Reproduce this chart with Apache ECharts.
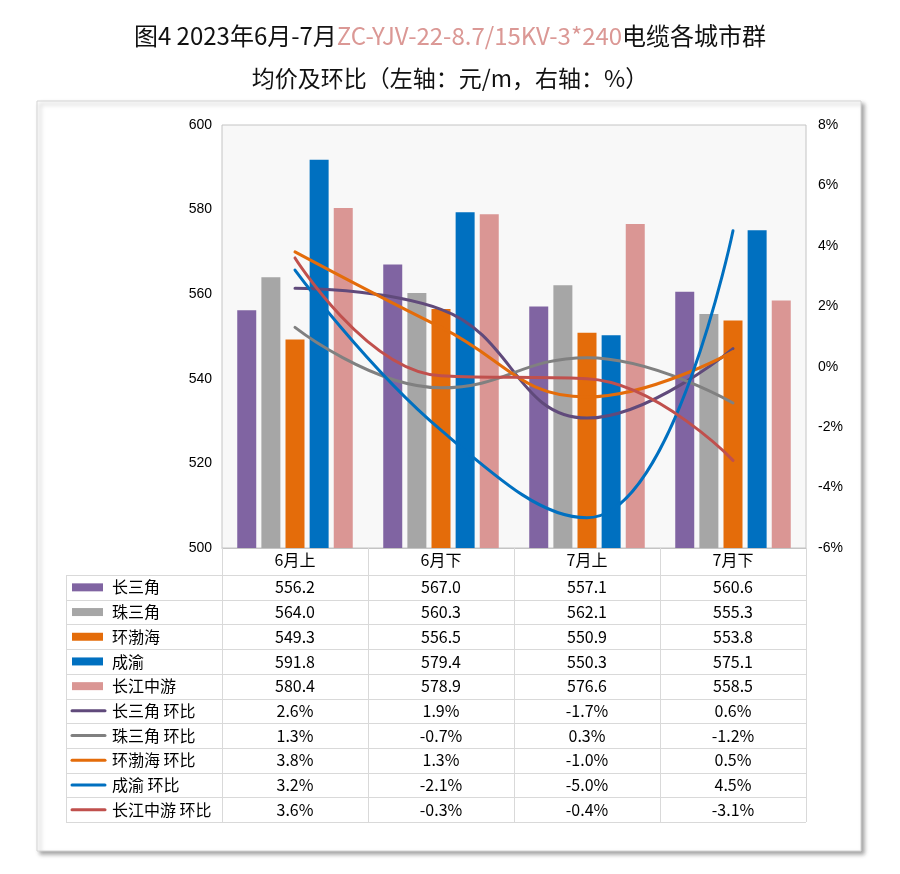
<!DOCTYPE html>
<html><head><meta charset="utf-8">
<script src="https://cdn.jsdelivr.net/npm/echarts@6/dist/echarts.min.js"></script>
<style>html,body{margin:0;padding:0;background:#fff}#c{width:900px;height:874px}</style>
</head><body><div id="c"></div>
<script>
const categories = ['6月上', '6月下', '7月上', '7月下'];
const priceNames = ['长三角', '珠三角', '环渤海', '成渝', '长江中游'];
const priceYRD = [556.2, 567.0, 557.1, 560.6];
const pricePRD = [564.0, 560.3, 562.1, 555.3];
const priceBohai = [549.3, 556.5, 550.9, 553.8];
const priceCY = [591.8, 579.4, 550.3, 575.1];
const priceMidYZ = [580.4, 578.9, 576.6, 558.5];
const pctNames = ['长三角 环比', '珠三角 环比', '环渤海 环比', '成渝 环比', '长江中游 环比'];
const pctYRD = [2.6, 1.9, -1.7, 0.6];
const pctPRD = [1.3, -0.7, 0.3, -1.2];
const pctBohai = [3.8, 1.3, -1.0, 0.5];
const pctCY = [3.2, -2.1, -5.0, 4.5];
const pctMidYZ = [3.6, -0.3, -0.4, -3.1];
const leftTicks = [500, 520, 540, 560, 580, 600];
const rightTicks = [-6, -4, -2, 0, 2, 4, 6, 8];

const priceData = [priceYRD, pricePRD, priceBohai, priceCY, priceMidYZ];
const pctData = [pctYRD, pctPRD, pctBohai, pctCY, pctMidYZ];
const barColors = ['#8064A2', '#A6A6A6', '#E46C0A', '#0070C0', '#DA9694'];
const lineColors = ['#604A7B', '#808080', '#E46C0A', '#0070C0', '#C0504D'];

const FONT = '"Noto Sans CJK SC", "Liberation Sans", sans-serif';
const chart = echarts.init(document.getElementById('c'));

const series = [];
priceNames.forEach((n, i) => series.push({
  name: n, type: 'bar', yAxisIndex: 0, data: priceData[i],
  barWidth: 19, barGap: '27%', itemStyle: { color: barColors[i] }, z: 2
}));
pctNames.forEach((n, i) => series.push({
  name: n, type: 'line', yAxisIndex: 1, data: pctData[i], smooth: 0.45,
  symbol: 'none', lineStyle: { color: lineColors[i], width: 3, cap: 'round' },
  itemStyle: { color: lineColors[i] }, z: 3
}));

chart.setOption({
  animation: false,
  backgroundColor: '#ffffff',
  title: {
    left: 'center', top: 9,
    text: '{a|图4 2023年6月-7月}{b|ZC-YJV-22-8.7/15KV-3*240}{a|电缆各城市群}\n{c|均价及环比（左轴：元/m，右轴：%）}',
    textStyle: {
      fontWeight: 'normal',
      rich: {
        a: { fontFamily: FONT, fontSize: 24, fontWeight: 'normal', color: '#111', lineHeight: 43 },
        b: { fontFamily: FONT, fontSize: 24, fontWeight: 'normal', color: '#DB9895', lineHeight: 43 },
        c: { fontFamily: FONT, fontSize: 23, fontWeight: 'normal', color: '#111', lineHeight: 43 }
      }
    }
  },
  grid: { left: 222, right: 94, top: 125, bottom: 326, show: true,
          backgroundColor: '#F8F8F8', borderColor: '#C4C4C4', borderWidth: 1, containLabel: false },
  xAxis: {
    type: 'category', data: categories, boundaryGap: true,
    axisLine: { show: true, onZero: false, lineStyle: { color: '#C4C4C4' } },
    axisTick: { show: true, length: 27, interval: 0, lineStyle: { color: '#D9D9D9' } },
    axisLabel: { margin: 4, fontFamily: FONT, fontSize: 16, color: '#000' }
  },
  yAxis: [
    { type: 'value', min: 500, max: 600, interval: 20, position: 'left',
      axisLine: { show: false }, axisTick: { show: false }, splitLine: { show: false },
      axisLabel: { fontFamily: '"Liberation Sans", Arial, sans-serif', fontSize: 14, color: '#000', margin: 10 } },
    { type: 'value', min: -6, max: 8, interval: 2, position: 'right',
      axisLine: { show: false }, axisTick: { show: false }, splitLine: { show: false },
      axisLabel: { fontFamily: '"Liberation Sans", Arial, sans-serif', fontSize: 14, color: '#000', margin: 12,
                   formatter: v => v + '%' } }
  ],
  series: series
});

// Data table drawn under the axis, using pixel positions from the axis scale
const centers = categories.map((c, i) => chart.convertToPixel({ xAxisIndex: 0 }, i));
const half = (centers[1] - centers[0]) / 2;
const xLeft = centers[0] - half;
const xRight = centers[centers.length - 1] + half;
const yBase = chart.convertToPixel({ yAxisIndex: 0 }, 500);
const headerH = 27;
const tableTop = yBase + headerH;
const rowH = 24.7;
const tableX = 66;
const nRows = priceNames.length + pctNames.length;
const tableBottom = tableTop + nRows * rowH;
const lineC = '#D9D9D9';
const els = [];

els.push({ type: 'rect', z: -100, silent: true,
  shape: { x: 37, y: 101, width: 824, height: 750 },
  style: { fill: '#fff', stroke: '#D4D4D4', lineWidth: 1,
           shadowBlur: 4, shadowOffsetX: 3, shadowOffsetY: 3, shadowColor: 'rgba(0,0,0,0.35)' } });

for (let r = 0; r <= nRows; r++) {
  const y = Math.round(tableTop + r * rowH) + 0.5;
  els.push({ type: 'line', z: 10, silent: true, shape: { x1: tableX, y1: y, x2: xRight, y2: y }, style: { stroke: lineC, lineWidth: 1 } });
}
els.push({ type: 'line', z: 10, silent: true, shape: { x1: tableX + 0.5, y1: tableTop, x2: tableX + 0.5, y2: tableBottom }, style: { stroke: lineC, lineWidth: 1 } });
for (let c = 0; c <= categories.length; c++) {
  const x = Math.round(xLeft + c * 2 * half) + 0.5;
  els.push({ type: 'line', z: 10, silent: true, shape: { x1: x, y1: tableTop, x2: x, y2: tableBottom }, style: { stroke: lineC, lineWidth: 1 } });
}

const rows = [];
priceNames.forEach((n, i) => rows.push({ name: n, kind: 'bar', color: barColors[i], vals: priceData[i].map(v => v.toFixed(1)) }));
pctNames.forEach((n, i) => rows.push({ name: n, kind: 'line', color: lineColors[i], vals: pctData[i].map(v => v.toFixed(1) + '%') }));

rows.forEach((row, r) => {
  const cy = tableTop + (r + 0.5) * rowH;
  if (row.kind === 'bar') {
    els.push({ type: 'rect', z: 10, silent: true, shape: { x: 72, y: cy - 4, width: 31, height: 8 }, style: { fill: row.color } });
  } else {
    els.push({ type: 'line', z: 10, silent: true, shape: { x1: 72, y1: cy, x2: 105, y2: cy }, style: { stroke: row.color, lineWidth: 3, lineCap: 'round' } });
  }
  els.push({ type: 'text', z: 10, silent: true, x: 112, y: cy,
    style: { text: row.name, fill: '#000', font: '16px ' + FONT, verticalAlign: 'middle' } });
  row.vals.forEach((v, c) => {
    els.push({ type: 'text', z: 10, silent: true, x: centers[c], y: cy,
      style: { text: v, fill: '#000', font: '16px ' + FONT, align: 'center', verticalAlign: 'middle' } });
  });
});

chart.setOption({ graphic: { elements: els } });
</script>
</body></html>
